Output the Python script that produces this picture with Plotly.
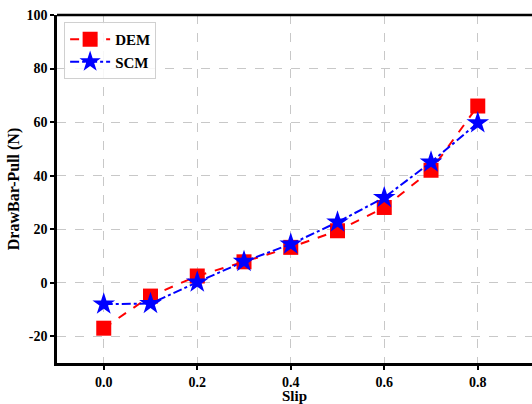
import plotly.graph_objects as go

slip = [0.0, 0.1, 0.2, 0.3, 0.4, 0.5, 0.6, 0.7, 0.8]
dem = [-17, -5, 2.5, 7.8, 13.2, 19.4, 28.1, 42, 66]
scm = [-8, -7.8, 0.2, 7.9, 14.4, 22.6, 31.8, 45, 59.7]
xticks = [0.0, 0.2, 0.4, 0.6, 0.8]
xticklabels = ["0.0", "0.2", "0.4", "0.6", "0.8"]
yticks = [-20, 0, 20, 40, 60, 80, 100]
yticklabels = ["-20", "0", "20", "40", "60", "80", "100"]

font = "Liberation Serif"

fig = go.Figure()
fig.add_trace(go.Scatter(
    x=slip, y=dem, name="DEM", mode="lines+markers",
    line=dict(color="red", width=2, dash="dash"),
    marker=dict(symbol="square", size=15, color="red"),
))
fig.add_trace(go.Scatter(
    x=slip, y=scm, name="SCM", mode="lines+markers",
    line=dict(color="blue", width=2, dash="dashdot"),
    marker=dict(symbol="star", size=17, color="blue"),
))

axis_common = dict(
    showline=True, linecolor="black", linewidth=2.5,
    ticks="outside", ticklen=4, tickwidth=1.5, tickcolor="black",
    showgrid=True, gridcolor="#c8c8c8", griddash="dash", gridwidth=1,
    zeroline=False, automargin=False, ticklabeloverflow="allow",
    tickfont=dict(family=font, size=14, color="black", weight="bold"),
)

fig.update_layout(
    width=532, height=404,
    margin=dict(l=57, r=0, t=15, b=41),
    plot_bgcolor="white", paper_bgcolor="white",
    font=dict(family=font, color="black"),
    xaxis=dict(
        range=[-0.1, 0.916], tickvals=xticks, ticktext=xticklabels,
        title=dict(text="Slip", font=dict(family=font, size=15, color="black", weight="bold"), standoff=1),
        **axis_common,
    ),
    yaxis=dict(
        range=[-30, 100], tickvals=yticks, ticktext=yticklabels,
        title=dict(text="DrawBar-Pull (N)", font=dict(family=font, size=16, color="black", weight="bold"), standoff=3),
        **axis_common,
    ),
    legend=dict(
        x=0.015, y=0.98, xanchor="left", yanchor="top",
        bgcolor="rgba(255,255,255,0.85)", bordercolor="#d0d0d0", borderwidth=1,
        font=dict(family=font, size=15, color="black", weight="bold"),
        itemwidth=40,
    ),
    showlegend=True,
    shapes=[dict(type="line", xref="paper", yref="paper", x0=0, x1=1, y0=1, y1=1,
                 line=dict(color="black", width=2.5))],
)

fig.write_html(
    "out.html",
    config={"displayModeBar": False},
    post_script="document.body.style.margin='0';document.body.style.overflow='hidden';",
)
